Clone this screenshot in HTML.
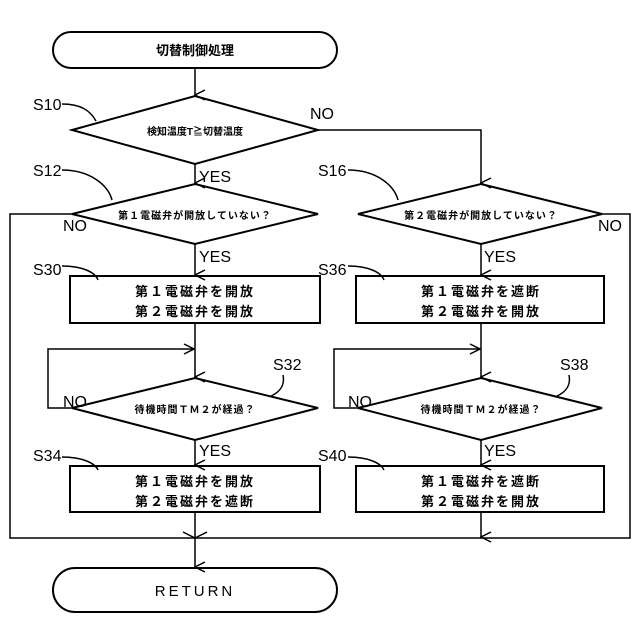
<!DOCTYPE html>
<html><head><meta charset="utf-8"><style>html,body{margin:0;padding:0;background:#fff}svg{display:block}</style></head><body>
<svg width="640" height="640" viewBox="0 0 640 640" xmlns="http://www.w3.org/2000/svg">
<defs><marker id="a" markerWidth="12" markerHeight="12" refX="6" refY="11" orient="auto" markerUnits="userSpaceOnUse"><path d="M1,1 L6,11 L11,1" fill="none" stroke="#000" stroke-width="1.5"/></marker>
<marker id="r" markerWidth="12" markerHeight="12" refX="11" refY="6" orient="0" markerUnits="userSpaceOnUse"><path d="M1,1 L11,6 L1,11" fill="none" stroke="#000" stroke-width="1.5"/></marker></defs>
<g fill="none" stroke="#000" stroke-width="2">
<rect x="53" y="32" width="284" height="36" rx="18" fill="#fff"/>
<rect x="53" y="568" width="284" height="44" rx="22" fill="#fff"/>
<polygon points="72,130 195,96 318,130 195,164"/>
<polygon points="72,214 195,184 318,214 195,244"/>
<polygon points="358,214 481,184 602,214 481,244"/>
<polygon points="72,408 195,378 318,408 195,440"/>
<polygon points="358,408 481,378 602,408 481,440"/>
<rect x="70" y="276" width="250" height="47"/>
<rect x="356" y="276" width="248" height="47"/>
<rect x="70" y="466" width="250" height="46"/>
<rect x="356" y="466" width="248" height="46"/>
</g>
<g fill="none" stroke="#000" stroke-width="1.5">
<line x1="195" y1="68" x2="195" y2="95" marker-end="url(#a)"/>
<line x1="195" y1="164" x2="195" y2="183" marker-end="url(#a)"/>
<polyline points="318,130 481,130 481,183" marker-end="url(#a)"/>
<line x1="195" y1="244" x2="195" y2="275" marker-end="url(#a)"/>
<line x1="481" y1="244" x2="481" y2="275" marker-end="url(#a)"/>
<polyline points="72,214 10,214 10,538 630,538 630,214 602,214"/>
<line x1="195" y1="323" x2="195" y2="377" marker-end="url(#a)"/>
<line x1="481" y1="323" x2="481" y2="377" marker-end="url(#a)"/>
<polyline points="72,408 48,408 48,349 194,349" marker-end="url(#r)"/>
<polyline points="358,408 334,408 334,349 480,349" marker-end="url(#r)"/>
<line x1="195" y1="440" x2="195" y2="465" marker-end="url(#a)"/>
<line x1="481" y1="440" x2="481" y2="465" marker-end="url(#a)"/>
<line x1="195" y1="512" x2="195" y2="567" marker-end="url(#a)"/>
<line x1="481" y1="512" x2="481" y2="537" marker-end="url(#a)"/>
<path d="M183,532 L195,538 L207,532"/>
<path d="M62,104 C80,104 90,110 96,121"/>
<path d="M62,170 C90,170 108,185 112,200"/>
<path d="M348,170 C376,170 394,185 398,200"/>
<path d="M62,266 C82,266 95,272 98,280"/>
<path d="M348,266 C368,266 381,272 384,280"/>
<path d="M62,457 C82,457 95,463 98,470"/>
<path d="M348,457 C368,457 381,463 384,470"/>
<path d="M283,375 C285,385 280,392 271,396"/>
<path d="M569,375 C571,385 566,392 557,396"/>
</g>
<g font-family="Liberation Sans, sans-serif" font-size="16" fill="#000">
<text x="33" y="110">S10</text><text x="33" y="176">S12</text><text x="318" y="176">S16</text>
<text x="33" y="275">S30</text><text x="318" y="275">S36</text>
<text x="273" y="370">S32</text><text x="560" y="370">S38</text>
<text x="33" y="461">S34</text><text x="318" y="461">S40</text>
<text x="310" y="119">NO</text><text x="63" y="231">NO</text><text x="598" y="231">NO</text>
<text x="63" y="407">NO</text><text x="348" y="407">NO</text>
<text x="199" y="182">YES</text><text x="199" y="262">YES</text><text x="484" y="262">YES</text>
<text x="199" y="456">YES</text><text x="484" y="456">YES</text>
</g>
<g font-family="Liberation Sans, 'Noto Sans CJK JP', sans-serif" font-weight="bold" fill="#000" text-anchor="middle">
<text x="195" y="55" font-size="13">切替制御処理</text>
<text x="195" y="135" font-size="10">検知温度T≧切替温度</text>
<text x="195" y="219" font-size="10" letter-spacing="1">第１電磁弁が開放していない？</text>
<text x="481" y="219" font-size="10" letter-spacing="1">第２電磁弁が開放していない？</text>
<text x="195" y="413" font-size="10" letter-spacing="1">待機時間ＴＭ２が経過？</text>
<text x="481" y="413" font-size="10" letter-spacing="1">待機時間ＴＭ２が経過？</text>
<g font-size="13" letter-spacing="2">
<text x="195" y="296">第１電磁弁を開放</text><text x="195" y="316">第２電磁弁を開放</text>
<text x="481" y="296">第１電磁弁を遮断</text><text x="481" y="316">第２電磁弁を開放</text>
<text x="195" y="486">第１電磁弁を開放</text><text x="195" y="506">第２電磁弁を遮断</text>
<text x="481" y="486">第１電磁弁を遮断</text><text x="481" y="506">第２電磁弁を開放</text>
</g>
<text x="195" y="596" font-size="15" font-weight="normal" letter-spacing="3">RETURN</text>
</g>
</svg>
</body></html>
